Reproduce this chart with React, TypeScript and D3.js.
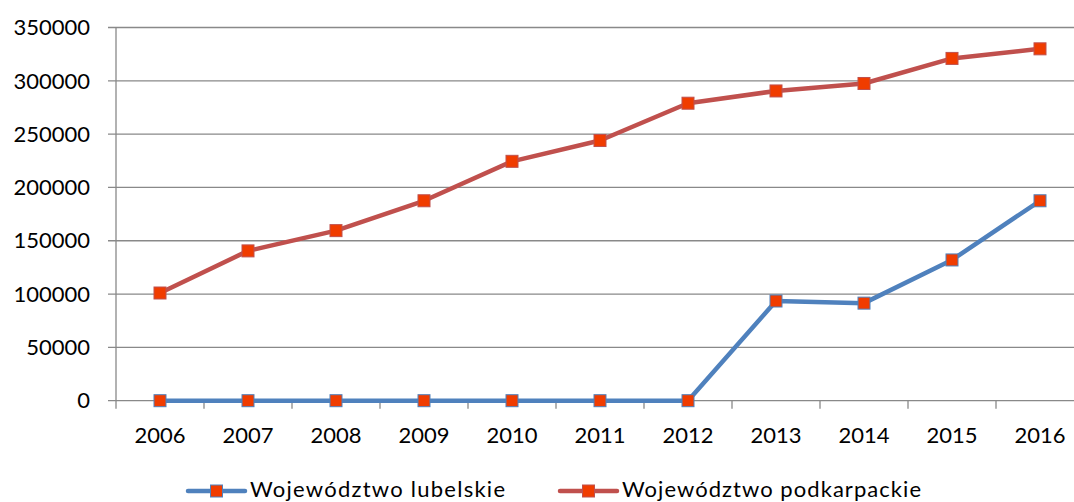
import React from "react";
import * as d3 from "d3";

const years = ["2006", "2007", "2008", "2009", "2010", "2011", "2012", "2013", "2014", "2015", "2016"];
const lubelskie = [0, 0, 0, 0, 0, 0, 0, 93500, 91500, 132000, 187500];
const podkarpackie = [101000, 140500, 159500, 187500, 224500, 244000, 279000, 290500, 297500, 321000, 330000];
const yTicks = [0, 50000, 100000, 150000, 200000, 250000, 300000, 350000];
const seriesNames = ["Województwo lubelskie", "Województwo podkarpackie"];
const lineColors = ["#4F81BD", "#C0504D"];
const markerFill = "#F03C00";

export default function App() {
  const W = 1074, H = 502;
  const left = 116, right = 1084, top = 27.5, bottom = 400.7;
  const x = d3.scaleBand<string>().domain(years).range([left, right]);
  const y = d3.scaleLinear().domain([0, 350000]).range([bottom, top]);
  const cx = (d: string) => (x(d) as number) + x.bandwidth() / 2;
  const line = d3.line<number>().x((_, i) => cx(years[i])).y((v) => y(v));
  const font = "Lato, 'Open Sans', sans-serif";
  const series = [lubelskie, podkarpackie];
  const grid = "#898989";
  const legendX = [188, 560];
  const legendTextLen = [255, 299];
  return (
    <svg width={W} height={H} style={{ position: "absolute", left: 0, top: 0, display: "block" }}>
      <rect width={W} height={H} fill="#fff" />
      {yTicks.map((t) => (
        <g key={t}>
          <line x1={108} x2={right} y1={y(t)} y2={y(t)} stroke={grid} strokeWidth={1.3} />
          <text x={90} y={y(t)} dy="0.35em" textAnchor="end" fontFamily={font} fontSize={22} fill="#000">
            {t}
          </text>
        </g>
      ))}
      <line x1={left} x2={left} y1={top} y2={bottom + 8} stroke={grid} strokeWidth={1.3} />
      {years.map((yr) => (
        <g key={yr}>
          <line x1={(x(yr) as number) + x.bandwidth()} x2={(x(yr) as number) + x.bandwidth()} y1={bottom} y2={bottom + 8} stroke={grid} strokeWidth={1.3} />
          <text x={cx(yr)} y={442.5} textAnchor="middle" fontFamily={font} fontSize={22} fill="#000">
            {yr}
          </text>
        </g>
      ))}
      {series.map((s, k) => (
        <g key={k}>
          <path d={line(s) as string} fill="none" stroke={lineColors[k]} strokeWidth={4.5} strokeLinejoin="round" />
          {s.map((v, i) => (
            <rect key={i} x={cx(years[i]) - 6} y={y(v) - 6} width={12} height={12} fill={markerFill} stroke={lineColors[k]} strokeWidth={1} />
          ))}
        </g>
      ))}
      {seriesNames.map((n, k) => (
        <g key={n} transform={`translate(${legendX[k]},0)`}>
          <line x1={0} x2={57} y1={491} y2={491} stroke={lineColors[k]} strokeWidth={4.5} strokeLinecap="round" />
          <rect x={22.5} y={485} width={12} height={12} fill={markerFill} stroke={lineColors[k]} strokeWidth={1} />
          <text x={62} y={497} fontFamily={font} fontSize={22} fill="#000" textLength={legendTextLen[k]} lengthAdjust="spacing">
            {n}
          </text>
        </g>
      ))}
    </svg>
  );
}
